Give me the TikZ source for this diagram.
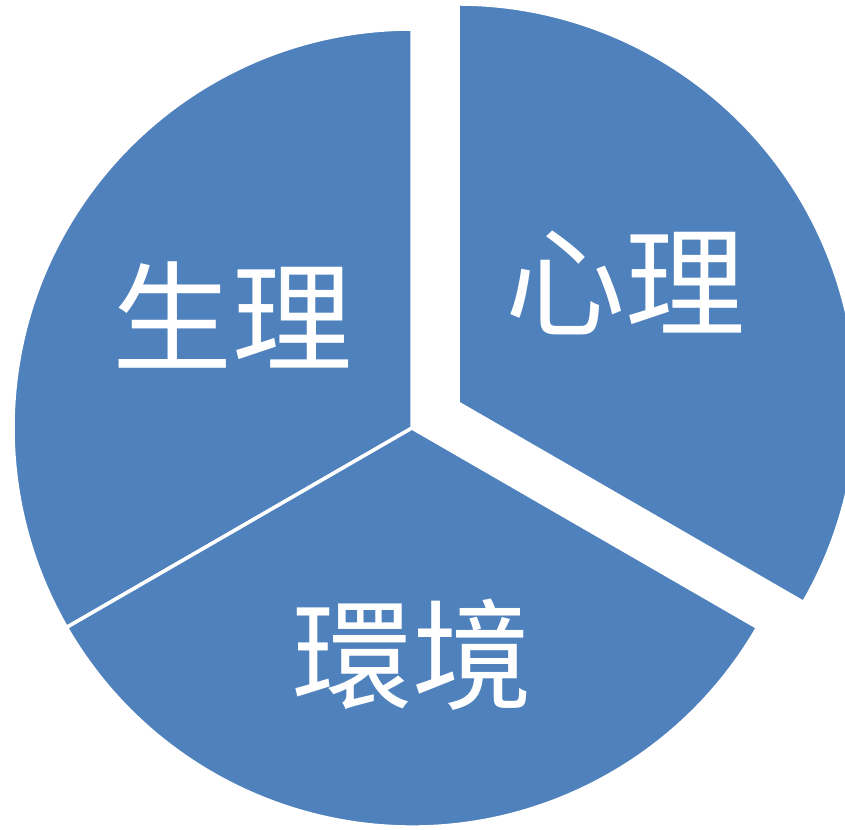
\documentclass[tikz,border=0pt]{standalone}
\usepackage{fontspec}
\newfontfamily\cjk{Noto Sans CJK TC}
\definecolor{pieblue}{HTML}{4F81BD}

\begin{document}
\begin{tikzpicture}[x=1pt, y=1pt]
  \tikzset{
    slice/.style={fill=pieblue, draw=white, line width=3.5pt, line join=miter},
    slicetext/.style={text=white, inner sep=0pt, font=\cjk\fontsize{120}{120}\selectfont}
  }
  \useasboundingbox (0,0) rectangle (845,829);

  \coordinate (O) at (412,401);
  \coordinate (E) at (458,426);

  % three slices, the right one pulled out
  \path[slice] (O) -- ++(90:399) arc[start angle=90, end angle=210, radius=399] -- cycle;
  \path[slice] (O) -- ++(210:399) arc[start angle=210, end angle=330, radius=399] -- cycle;
  \path[slice] (E) -- ++(-30:399) arc[start angle=-30, end angle=90, radius=399] -- cycle;

  \node[slicetext] (physio) at (232,514) {生理};
  \node[slicetext] (psycho) at (625,546) {心理};
  \node[slicetext] (env) at (412,174) {環境};
\end{tikzpicture}
\end{document}
